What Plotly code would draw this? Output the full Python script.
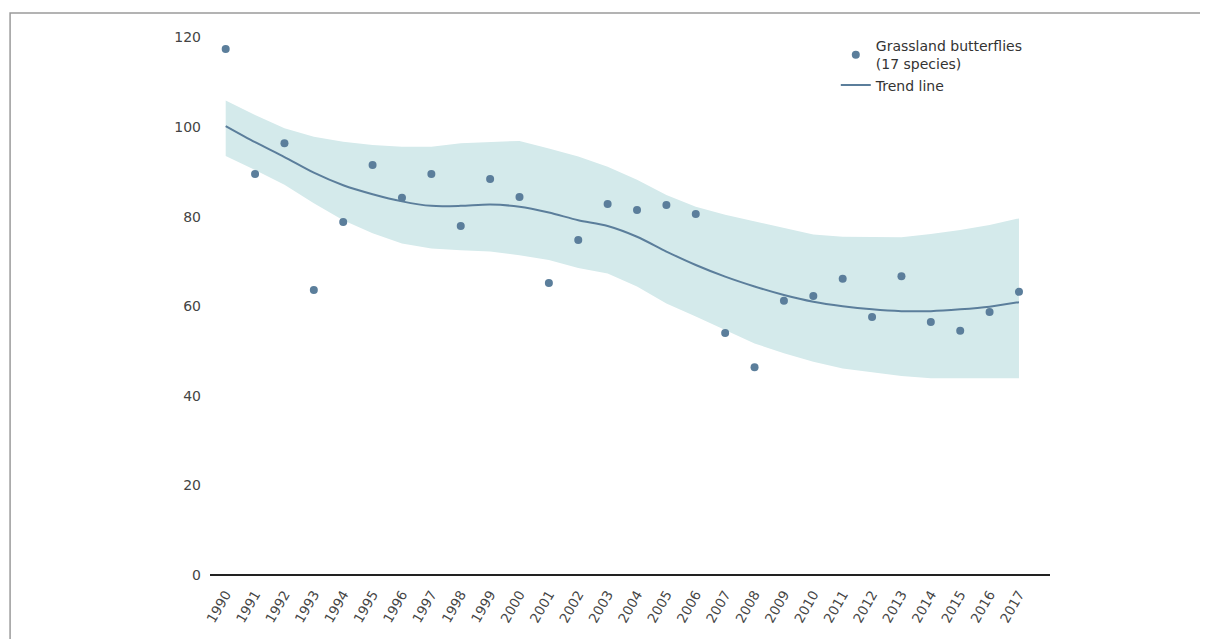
import plotly.graph_objects as go

years = list(range(1990, 2018))
year_labels = [str(y) for y in years]

butterflies = [117.4, 89.5, 96.4, 63.6, 78.8, 91.5, 84.2, 89.5, 77.9, 88.4,
               84.4, 65.2, 74.8, 82.8, 81.5, 82.6, 80.6, 54.0, 46.4, 61.2,
               62.3, 66.1, 57.6, 66.7, 56.5, 54.5, 58.7, 63.2]

trend = [100.2, 96.6, 93.3, 89.8, 87.0, 85.0, 83.4, 82.4, 82.4, 82.7,
         82.2, 80.9, 79.2, 77.9, 75.5, 72.2, 69.2, 66.6, 64.4, 62.5,
         61.0, 60.0, 59.3, 58.9, 58.9, 59.3, 59.9, 60.9]

upper = [105.9, 102.7, 99.7, 97.8, 96.7, 96.0, 95.6, 95.6, 96.4, 96.7,
         96.9, 95.2, 93.4, 91.1, 88.2, 84.8, 82.2, 80.4, 78.9, 77.4,
         76.0, 75.5, 75.5, 75.4, 76.1, 77.0, 78.1, 79.6]

lower = [93.5, 90.4, 87.1, 83.0, 79.2, 76.3, 74.0, 72.9, 72.5, 72.2,
         71.4, 70.3, 68.5, 67.3, 64.4, 60.6, 57.7, 54.7, 51.7, 49.5,
         47.6, 46.1, 45.2, 44.4, 43.9, 43.9, 43.9, 43.9]

y_ticks = [0, 20, 40, 60, 80, 100, 120]

point_color = "#5b7e9b"
band_color = "#d4eaeb"
font_family = "DejaVu Sans, Verdana, sans-serif"

fig = go.Figure()

fig.add_trace(go.Scatter(x=years, y=upper, mode="lines", line=dict(width=0, color=band_color),
                         showlegend=False, hoverinfo="skip"))
fig.add_trace(go.Scatter(x=years, y=lower, mode="lines", line=dict(width=0, color=band_color),
                         fill="tonexty", fillcolor=band_color, showlegend=False, hoverinfo="skip"))
fig.add_trace(go.Scatter(x=years, y=butterflies, mode="markers",
                         marker=dict(size=8, color=point_color),
                         name="Grassland butterflies<br>(17 species)"))
fig.add_trace(go.Scatter(x=years, y=trend, mode="lines",
                         line=dict(width=2, color=point_color, shape="spline", smoothing=0.8),
                         name="Trend line"))

# outer frame (top and left edges)
fig.add_shape(type="path", xref="paper", yref="paper",
              path="M -0.238,-0.2 L -0.238,1.0036 L 1.25,1.0036",
              line=dict(color="#9a9a9a", width=1.5))

fig.update_layout(
    width=1208, height=639,
    margin=dict(l=202, r=166, t=7, b=72),
    paper_bgcolor="white", plot_bgcolor="white",
    font=dict(family=font_family, size=13, color="#444"),
    showlegend=True,
    legend=dict(x=0.745, y=0.973, xanchor="left", yanchor="top",
                traceorder="normal",
                bgcolor="rgba(0,0,0,0)", font=dict(size=14, color="#333"),
                tracegroupgap=2, itemwidth=30),
    xaxis=dict(range=[1989.466, 2018.056], tickmode="array", tickvals=years,
               ticktext=year_labels, tickangle=-60, showgrid=False, zeroline=False,
               showline=False, ticks="", tickfont=dict(size=13.5, color="#444"),
               ticklabelstandoff=8),
    yaxis=dict(range=[0, 125], tickmode="array", tickvals=y_ticks,
               ticktext=[str(v) for v in y_ticks], showgrid=False, zeroline=True,
               zerolinecolor="#222", zerolinewidth=1.5, showline=False, ticks="",
               tickfont=dict(size=14, color="#444"), ticklabelstandoff=8),
)

fig.write_html("out.html")
